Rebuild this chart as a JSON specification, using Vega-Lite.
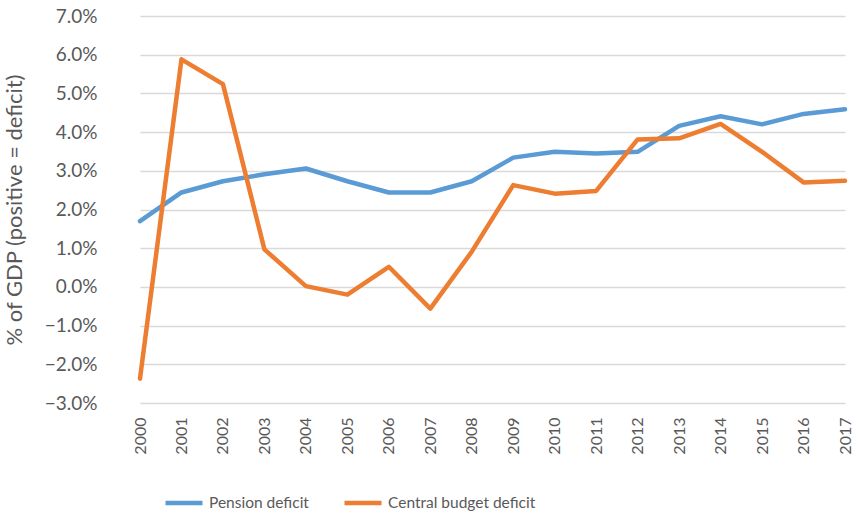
{
  "$schema": "https://vega.github.io/schema/vega-lite/v6.json",
  "width": 739,
  "height": 387,
  "autosize": {"type": "none"},
  "padding": {"left": 119, "top": 16, "right": 0, "bottom": 113},
  "background": "white",
  "config": {
    "font": "Lato",
    "view": {"stroke": null},
    "axis": {"labelColor": "#595959", "titleColor": "#595959", "labelFont": "Lato", "titleFont": "Lato"},
    "legend": {"labelColor": "#595959", "labelFont": "Lato"}
  },
  "data": {
    "values": [
      {"year": "2000", "series": "Pension deficit", "v": 0.0170},
      {"year": "2001", "series": "Pension deficit", "v": 0.0244},
      {"year": "2002", "series": "Pension deficit", "v": 0.0273},
      {"year": "2003", "series": "Pension deficit", "v": 0.0291},
      {"year": "2004", "series": "Pension deficit", "v": 0.0306},
      {"year": "2005", "series": "Pension deficit", "v": 0.0273},
      {"year": "2006", "series": "Pension deficit", "v": 0.0244},
      {"year": "2007", "series": "Pension deficit", "v": 0.0244},
      {"year": "2008", "series": "Pension deficit", "v": 0.0273},
      {"year": "2009", "series": "Pension deficit", "v": 0.0334},
      {"year": "2010", "series": "Pension deficit", "v": 0.0349},
      {"year": "2011", "series": "Pension deficit", "v": 0.0345},
      {"year": "2012", "series": "Pension deficit", "v": 0.0349},
      {"year": "2013", "series": "Pension deficit", "v": 0.0416},
      {"year": "2014", "series": "Pension deficit", "v": 0.0441},
      {"year": "2015", "series": "Pension deficit", "v": 0.0420},
      {"year": "2016", "series": "Pension deficit", "v": 0.0447},
      {"year": "2017", "series": "Pension deficit", "v": 0.0459},
      {"year": "2000", "series": "Central budget deficit", "v": -0.0237},
      {"year": "2001", "series": "Central budget deficit", "v": 0.0588},
      {"year": "2002", "series": "Central budget deficit", "v": 0.0524},
      {"year": "2003", "series": "Central budget deficit", "v": 0.0097},
      {"year": "2004", "series": "Central budget deficit", "v": 0.0002},
      {"year": "2005", "series": "Central budget deficit", "v": -0.0020},
      {"year": "2006", "series": "Central budget deficit", "v": 0.0052},
      {"year": "2007", "series": "Central budget deficit", "v": -0.0056},
      {"year": "2008", "series": "Central budget deficit", "v": 0.0091},
      {"year": "2009", "series": "Central budget deficit", "v": 0.0263},
      {"year": "2010", "series": "Central budget deficit", "v": 0.0241},
      {"year": "2011", "series": "Central budget deficit", "v": 0.0248},
      {"year": "2012", "series": "Central budget deficit", "v": 0.0381},
      {"year": "2013", "series": "Central budget deficit", "v": 0.0384},
      {"year": "2014", "series": "Central budget deficit", "v": 0.0421},
      {"year": "2015", "series": "Central budget deficit", "v": 0.0349},
      {"year": "2016", "series": "Central budget deficit", "v": 0.0270},
      {"year": "2017", "series": "Central budget deficit", "v": 0.0274}
    ]
  },
  "mark": {"type": "line", "strokeWidth": 4.5, "strokeCap": "round", "strokeJoin": "round"},
  "encoding": {
    "x": {
      "field": "year",
      "type": "ordinal",
      "scale": {"type": "point", "range": [21, 726], "padding": 0},
      "axis": {
        "title": null,
        "labelAngle": -90,
        "labelFontSize": 16,
        "labelPadding": 14,
        "ticks": false,
        "domain": false,
        "grid": false
      }
    },
    "y": {
      "field": "v",
      "type": "quantitative",
      "scale": {"domain": [-0.03, 0.07], "nice": false, "zero": false},
      "axis": {
        "title": "% of GDP (positive = deficit)",
        "titleFontSize": 22,
        "titleFontWeight": "normal",
        "titlePadding": 18,
        "format": ".1%",
        "values": [-0.03, -0.02, -0.01, 0, 0.01, 0.02, 0.03, 0.04, 0.05, 0.06, 0.07],
        "labelFontSize": 19,
        "labelPadding": 22,
        "ticks": false,
        "domain": false,
        "grid": true,
        "gridColor": "#D9D9D9",
        "gridWidth": 1.5
      }
    },
    "color": {
      "field": "series",
      "type": "nominal",
      "scale": {"domain": ["Pension deficit", "Central budget deficit"], "range": ["#5B9BD5", "#ED7D31"]},
      "legend": {
        "title": null,
        "orient": "none",
        "legendX": 44,
        "legendY": 466,
        "direction": "horizontal",
        "symbolType": "stroke",
        "symbolSize": 1369,
        "symbolStrokeWidth": 4.5,
        "labelFontSize": 15.5,
        "labelLimit": 400,
        "labelOffset": 4,
        "columnPadding": 26
      }
    }
  }
}
